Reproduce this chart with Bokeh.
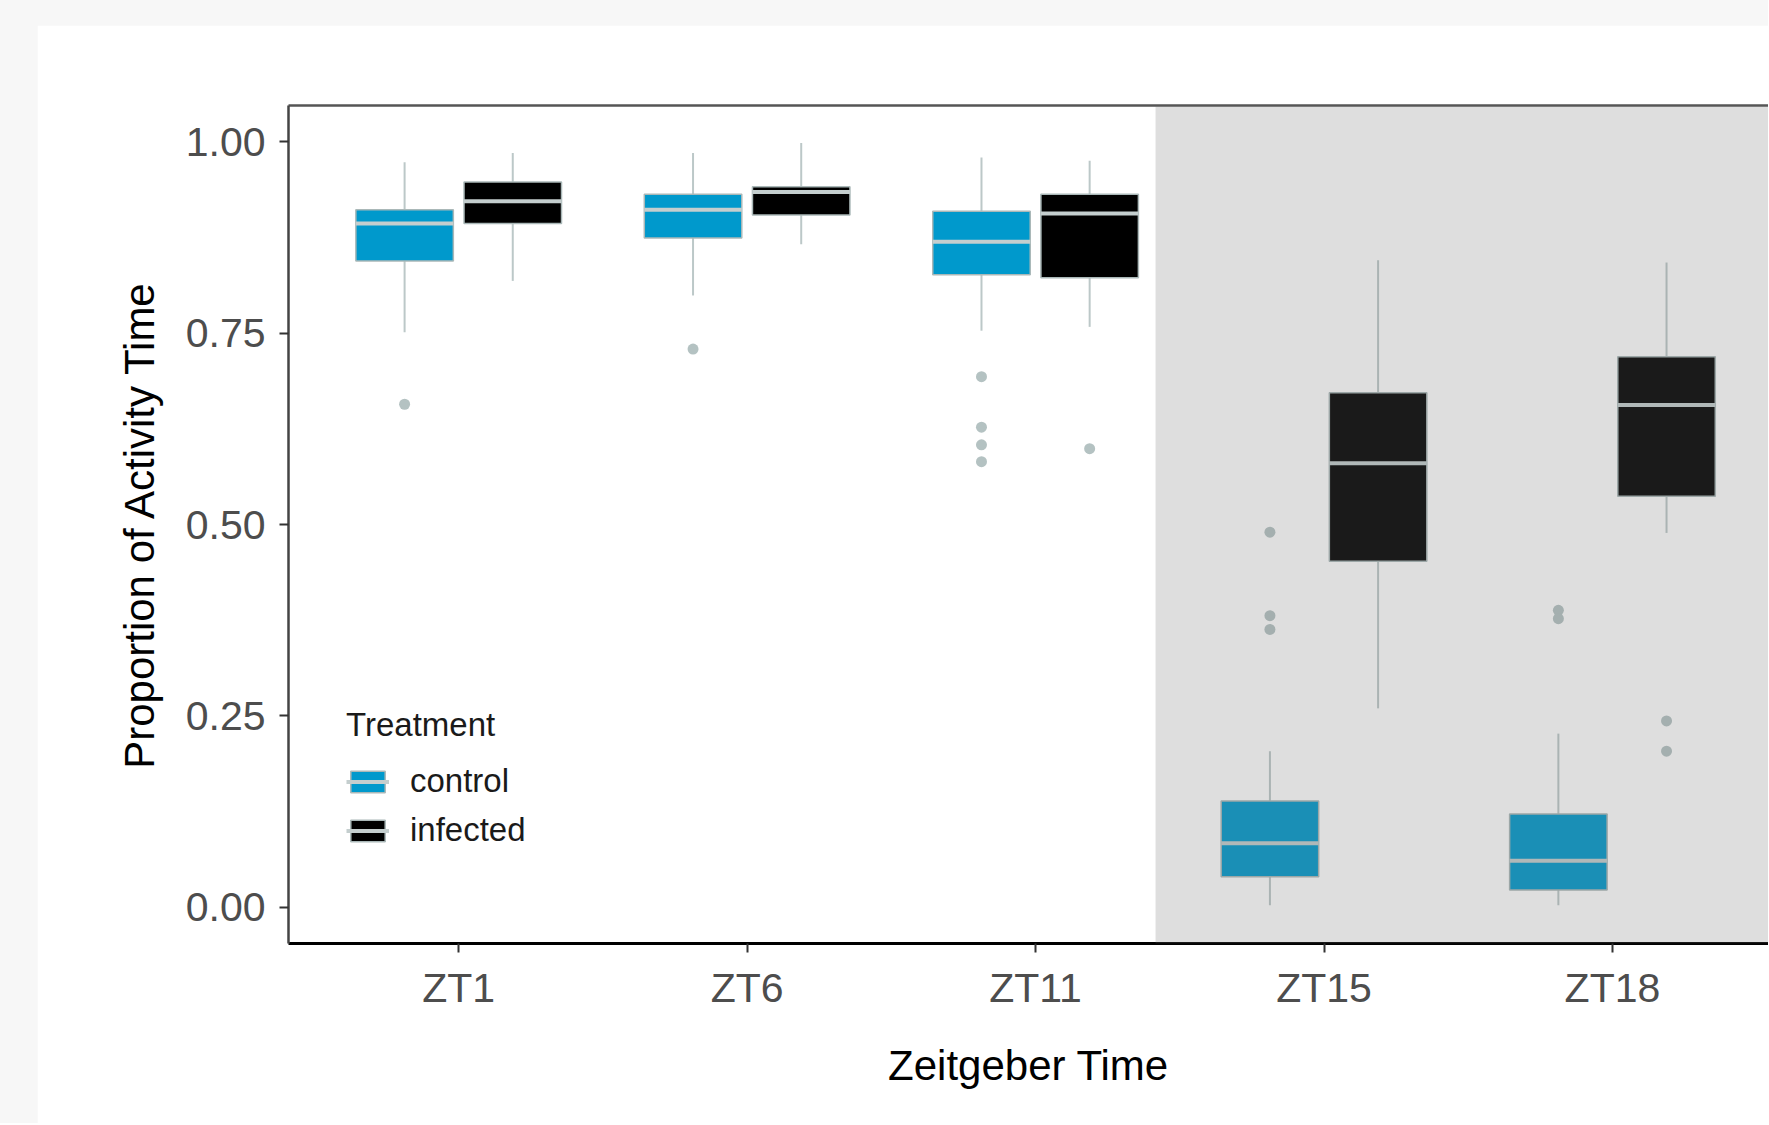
from bokeh.plotting import figure
from bokeh.models import (ColumnDataSource, FixedTicker, NumeralTickFormatter, LinearAxis,
                          BoxAnnotation, Legend, LegendItem, Range1d)
from bokeh.layouts import column
from bokeh.embed import file_html
from bokeh.resources import INLINE

# ---------------- data ----------------
times = ["ZT1", "ZT6", "ZT11", "ZT15", "ZT18"]
treatments = ["control", "infected"]

control_low = [0.751, 0.799, 0.753, 0.003, 0.003]
control_q1 = [0.844, 0.874, 0.826, 0.040, 0.023]
control_med = [0.893, 0.911, 0.869, 0.084, 0.061]
control_q3 = [0.911, 0.931, 0.909, 0.139, 0.122]
control_high = [0.973, 0.985, 0.979, 0.204, 0.227]
control_outliers = [[0.657], [0.729], [0.693, 0.627, 0.604, 0.582], [0.490, 0.381, 0.363], [0.388, 0.377]]

infected_low = [0.818, 0.866, 0.758, 0.260, 0.489]
infected_q1 = [0.893, 0.904, 0.822, 0.452, 0.537]
infected_med = [0.922, 0.934, 0.906, 0.580, 0.656]
infected_q3 = [0.947, 0.941, 0.931, 0.672, 0.719]
infected_high = [0.985, 0.998, 0.975, 0.845, 0.842]
infected_outliers = [[], [], [0.599], [], [0.2435, 0.204]]

y_ticks = [0.0, 0.25, 0.50, 0.75, 1.00]
night_start = 3.416  # x position where the shaded (dark) period begins

# ---------------- styling ----------------
FONT = "Liberation Sans"
colors = {"control": "#0099cc", "infected": "#000000"}
offsets = {"control": -0.1875, "infected": 0.1875}
half_w = 0.169
whisker_col = "#bcc8c8"
median_col = "#c4cece"

p = figure(width=1731, height=1098, output_backend="svg", toolbar_location=None,
           x_range=Range1d(0.41, 5.541), y_range=Range1d(-0.047, 1.047),
           min_border_left=251, min_border_top=80, min_border_bottom=180, min_border_right=0,
           background_fill_color="white", border_fill_color="white")
p.outline_line_color = None
p.grid.visible = False

series = {
    "control": (control_low, control_q1, control_med, control_q3, control_high, control_outliers),
    "infected": (infected_low, infected_q1, infected_med, infected_q3, infected_high, infected_outliers),
}

legend_items = []
for t in treatments:
    low, q1, med, q3, high, outs = series[t]
    xs = [i + 1 + offsets[t] for i in range(len(times))]
    src = ColumnDataSource(dict(x=xs, left=[x - half_w for x in xs], right=[x + half_w for x in xs],
                                low=low, q1=q1, med=med, q3=q3, high=high))
    p.segment(x0="x", y0="q3", x1="x", y1="high", source=src, line_color=whisker_col, line_width=2)
    p.segment(x0="x", y0="low", x1="x", y1="q1", source=src, line_color=whisker_col, line_width=2)
    box = p.quad(left="left", right="right", bottom="q1", top="q3", source=src,
                 fill_color=colors[t], line_color="#aab8b8", line_width=1.5)
    medr = p.segment(x0="left", y0="med", x1="right", y1="med", source=src,
                     line_color=median_col, line_width=4)
    ox, oy = [], []
    for i, vals in enumerate(outs):
        for v in vals:
            ox.append(i + 1 + offsets[t])
            oy.append(v)
    p.scatter(x=ox, y=oy, size=11, fill_color="#b4c2c2", line_color=None)
    legend_items.append(LegendItem(label=t, renderers=[box, medr]))

# dark-period shading drawn on top (semi-transparent)
p.add_layout(BoxAnnotation(left=night_start, fill_color=(112, 112, 112), fill_alpha=0.23,
                           line_color=None))

# ---------------- axes ----------------
p.xaxis.ticker = FixedTicker(ticks=list(range(1, len(times) + 1)))
p.xaxis.major_label_overrides = {i + 1: t for i, t in enumerate(times)}
p.yaxis.ticker = FixedTicker(ticks=y_ticks)
p.yaxis.formatter = NumeralTickFormatter(format="0.00")
p.xaxis.axis_label = "Zeitgeber Time"
p.yaxis.axis_label = "Proportion of Activity Time"

for ax in (p.xaxis, p.yaxis):
    ax.minor_tick_line_color = None
    ax.major_tick_in = 0
    ax.major_tick_out = 9
    ax.major_tick_line_color = "#333333"
    ax.major_tick_line_width = 2
    ax.major_label_text_font = FONT
    ax.major_label_text_font_size = "41px"
    ax.major_label_text_color = "#4d4d4d"
    ax.axis_label_text_font = FONT
    ax.axis_label_text_font_size = "42px"
    ax.axis_label_text_font_style = "normal"
    ax.axis_label_text_color = "#000000"

p.xaxis.axis_line_color = "#000000"
p.xaxis.axis_line_width = 3
p.xaxis.major_label_standoff = 12
p.xaxis.axis_label_standoff = 28
p.yaxis.axis_line_color = "#444444"
p.yaxis.axis_line_width = 2.5
p.yaxis.major_label_standoff = 14
p.yaxis.axis_label_standoff = 20

top_axis = LinearAxis(ticker=FixedTicker(ticks=[]), major_label_text_font_size="0px",
                      axis_line_color="#555555", axis_line_width=2.5,
                      major_tick_line_color=None, minor_tick_line_color=None)
p.add_layout(top_axis, "above")

# ---------------- legend ----------------
legend = Legend(items=legend_items, title="Treatment", location=(58, 94),
                title_text_font=FONT, title_text_font_size="33px", title_text_color="#1a1a1a",
                title_text_font_style="normal", title_standoff=18,
                label_text_font=FONT, label_text_font_size="33px", label_text_color="#1a1a1a",
                glyph_width=43, glyph_height=27, label_standoff=21, spacing=11,
                padding=0, margin=0, border_line_color=None, background_fill_alpha=0)
p.add_layout(legend, "center")

root = column(p, styles={"background-color": "#f7f7f7", "padding-top": "25px", "padding-left": "37px"})

open("out.html", "w").write(file_html(root, INLINE))
